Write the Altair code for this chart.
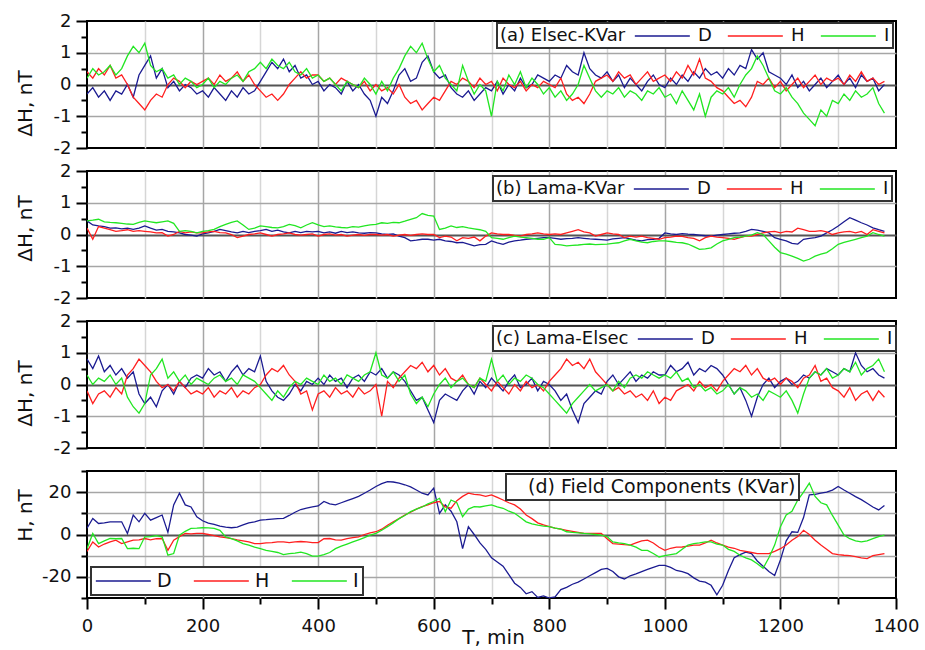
import altair as alt
import pandas as pd

# ---------------- data (minutes, 10-min steps, 0..1380) ----------------
T = list(range(0, 1390, 10))
COMPS = ["D", "H", "I"]
COLORS = ["#1b1b91", "#ff1f1f", "#22e622"]

TITLE_A = "(a) Elsec-KVar"
TITLE_B = "(b) Lama-KVar"
TITLE_C = "(c) Lama-Elsec"
TITLE_D = "(d) Field Components (KVar)"

X_GRID = list(range(0, 1500, 100))
Y_SMALL = [-2, -1.5, -1, -0.5, 0, 0.5, 1, 1.5, 2]
Y_BIG = [-30, -20, -10, 0, 10, 20, 30]

a_D = [-0.3, -0.1, -0.4, -0.2, -0.5, -0.2, -0.3, 0.0, -0.4, 0.3,
       0.6, 0.9, 0.2, 0.5, -0.1, 0.1, -0.2, 0.0, -0.1, -0.3,
       -0.2, -0.4, -0.1, -0.3, -0.5, -0.2, -0.4, -0.1, -0.3, -0.2,
       0.1, 0.4, 0.7, 0.5, 0.8, 0.4, 0.6, 0.2, 0.3, 0.0,
       0.1, -0.2, 0.0, -0.1, -0.3, 0.1, -0.2, 0.0, -0.3, -0.5,
       -1.0, -0.4, -0.6, -0.2, 0.3, 0.5, 0.1, 0.2, 0.7, 0.9,
       0.4, 0.2, 0.3, -0.1, -0.3, -0.4, -0.2, -0.5, -0.3, -0.1,
       -0.2, 0.1, -0.3, 0.0, -0.2, 0.2, -0.1, 0.0, 0.3, 0.2,
       0.1, 0.3, 0.2, 0.6, 0.4, 0.3, 1.0, 0.5, 0.3, 0.2,
       0.4, 0.1, 0.3, -0.1, 0.2, 0.0, -0.2, 0.1, 0.3, 0.0,
       -0.1, 0.2, 0.0, 0.3, 0.1, 0.4, 0.2, 0.5, 0.3, 0.4,
       0.2, 0.5, 0.3, 0.6, 0.5, 1.1, 0.8, 1.0, 0.4, 0.3,
       0.2, 0.0, 0.3, -0.1, 0.1, -0.2, 0.0, 0.2, -0.1, 0.1,
       0.3, 0.0, 0.2, -0.1, 0.3, 0.1, 0.2, -0.2, 0.0]
a_H = [0.4, 0.2, 0.5, 0.3, 0.6, 0.2, 0.3, 0.0, -0.4, -0.6,
       -0.8, -0.5, -0.3, -0.4, 0.0, 0.2, 0.1, -0.1, 0.1, 0.0,
       0.1, 0.2, 0.0, 0.3, 0.1, 0.2, 0.4, 0.1, 0.3, 0.0,
       -0.2, -0.4, -0.3, -0.5, -0.3, 0.0, 0.2, 0.4, 0.2, 0.3,
       0.3, 0.1, 0.2, 0.0, 0.2, 0.1, 0.0, -0.1, 0.1, -0.2,
       0.0, -0.2, -0.1, -0.3, 0.0, -0.4, -0.6, -0.5, -0.8, -0.6,
       -0.4, -0.5, -0.2, 0.1, 0.0, 0.2, 0.1, -0.1, 0.2, 0.0,
       0.1, -0.2, 0.2, 0.0, -0.1, 0.1, -0.2, 0.0, -0.1, 0.1,
       0.0, -0.1, 0.2, -0.3, -0.5, -0.4, -0.6, -0.3, 0.1, 0.2,
       0.3, 0.1, 0.4, 0.2, 0.3, 0.0, 0.2, 0.4, 0.1, 0.2,
       0.3, 0.1, 0.4, 0.2, 0.6, 0.3, 0.8, 0.2, 0.1, -0.1,
       -0.2, -0.4, -0.6, -0.5, -0.7, -0.4, 0.1, 0.0, 0.2, -0.1,
       0.1, -0.2, 0.0, 0.2, -0.1, 0.1, 0.3, 0.0, 0.2, 0.1,
       0.2, 0.0, 0.3, 0.1, 0.4, 0.1, 0.2, 0.0, 0.1]
a_I = [0.2, 0.5, 0.3, 0.4, 0.6, 0.3, 0.5, 0.9, 1.2, 1.0,
       1.3, 0.6, 0.4, 0.5, 0.2, 0.3, 0.0, 0.2, 0.1, -0.1,
       0.0, 0.2, -0.1, 0.1, 0.0, 0.2, 0.3, 0.1, 0.4, 0.5,
       0.7, 0.5, 0.8, 0.6, 0.5, 0.7, 0.4, 0.3, 0.5, 0.2,
       0.3, 0.1, 0.2, 0.0, -0.2, 0.1, 0.0, -0.1, 0.2, 0.0,
       -0.3, 0.1, -0.2, 0.2, 0.5, 0.9, 1.2, 1.0, 1.3, 0.8,
       0.4, 0.6, 0.2, 0.0, -0.2, 0.6, 0.1, -0.3, 0.0, -0.2,
       -1.0, 0.1, -0.2, 0.3, 0.0, 0.4, -0.1, 0.2, 0.0, -0.3,
       -0.1, -0.4, -0.2, -0.5, -0.3, 0.0, 0.6, 0.2, -0.2, -0.4,
       -0.2, -0.3, -0.1, -0.4, -0.2, -0.3, -0.5, -0.2, -0.3, -0.1,
       -0.4, -0.3, -0.6, -0.2, -0.5, -0.8, -0.3, -1.0, -0.4, -0.2,
       -0.3, -0.1, -0.4, 0.0, 0.3, 0.5, 0.9, 0.6, 0.2, -0.2,
       -0.3, -0.1, -0.4, -0.6, -0.9, -1.1, -1.3, -0.8, -1.0, -0.5,
       -0.6, -0.3, -0.5, -0.2, -0.4, -0.3, -0.1, -0.6, -0.9]

b_D = [0.43, 0.3, 0.27, 0.25, 0.2, 0.21, 0.18, 0.2, 0.16, 0.2,
       0.27, 0.2, 0.14, 0.16, 0.1, 0.08, 0.05, 0.0, -0.02, -0.05,
       0.02, 0.05, 0.1, 0.16, 0.12, 0.08, 0.05, 0.1, 0.06, 0.1,
       0.12, 0.16, 0.1, 0.14, 0.08, 0.05, 0.1, 0.06, 0.1, 0.08,
       0.1, 0.05, 0.08, 0.04, 0.1, 0.06, 0.08, 0.05, 0.04, 0.06,
       0.05, 0.02, 0.0, 0.02, -0.05, -0.1, -0.2, -0.18, -0.15, -0.15,
       -0.18, -0.15, -0.2, -0.22, -0.26, -0.25, -0.3, -0.36, -0.32, -0.31,
       -0.2, -0.26, -0.31, -0.24, -0.2, -0.18, -0.15, -0.14, -0.12, -0.1,
       -0.1, -0.12, -0.15, -0.13, -0.12, -0.1, -0.12, -0.14, -0.15, -0.16,
       -0.18, -0.14, -0.12, -0.1, -0.14, -0.18, -0.2, -0.16, -0.15, -0.12,
       0.05, 0.02, 0.0, 0.03, 0.01, 0.0, -0.02, -0.04, -0.05, -0.02,
       0.0, 0.02, 0.04, 0.05, 0.1, 0.16, 0.14, 0.1, 0.05, -0.1,
       -0.15, -0.2, -0.28, -0.3, -0.15, -0.12, -0.1, -0.05, 0.05, 0.15,
       0.27, 0.4, 0.53, 0.45, 0.37, 0.3, 0.21, 0.15, 0.1]
b_H = [0.2, -0.15, 0.25, 0.2, 0.15, 0.1, 0.12, 0.15, 0.1, 0.12,
       0.1, 0.08, 0.05, 0.06, -0.05, 0.0, 0.1, 0.05, 0.08, 0.05,
       0.05, 0.08, 0.1, 0.06, 0.05, 0.0, -0.1, -0.05, 0.0, 0.02,
       0.05, 0.0, -0.05, 0.0, 0.02, 0.05, 0.0, -0.02, 0.0, 0.02,
       -0.05, 0.0, 0.02, -0.02, 0.0, -0.05, -0.02, 0.0, -0.03, 0.0,
       0.0, -0.02, 0.0, -0.05, -0.02, 0.0, -0.03, 0.0, 0.02, 0.0,
       0.0, -0.1, -0.05, -0.08, -0.2, -0.1, -0.12, -0.08, -0.2, -0.05,
       0.05, 0.02, 0.0, 0.0, -0.03, -0.05, 0.0, 0.02, 0.05, 0.02,
       0.0, 0.02, 0.0, 0.05, 0.1, 0.15, 0.08, 0.05, -0.05, 0.0,
       0.05, 0.02, 0.0, -0.1, -0.05, -0.08, -0.05, -0.1, -0.12, -0.15,
       -0.1, -0.08, -0.05, -0.06, -0.1, -0.12, -0.2, -0.1, -0.05, -0.08,
       -0.1, -0.12, -0.15, -0.1, -0.05, -0.05, 0.0, 0.05, 0.08, 0.1,
       0.05, 0.1, 0.08, 0.2, 0.15, 0.1, 0.1, 0.12, 0.08, 0.0,
       0.05, 0.08, 0.1, 0.05, 0.1, 0.0, 0.15, 0.1, 0.05]
b_I = [0.43, 0.45, 0.48, 0.4, 0.38, 0.37, 0.35, 0.33, 0.32, 0.38,
       0.43, 0.4, 0.37, 0.4, 0.43, 0.35, 0.1, 0.12, 0.1, 0.05,
       0.1, 0.12, 0.16, 0.25, 0.32, 0.38, 0.43, 0.3, 0.16, 0.2,
       0.27, 0.25, 0.22, 0.21, 0.25, 0.32, 0.28, 0.21, 0.3, 0.37,
       0.3, 0.25, 0.27, 0.24, 0.22, 0.21, 0.25, 0.23, 0.27, 0.3,
       0.32, 0.37, 0.35, 0.38, 0.37, 0.42, 0.48, 0.53, 0.66, 0.6,
       0.58, 0.16, 0.2, 0.27, 0.22, 0.25, 0.21, 0.18, 0.15, 0.1,
       -0.1, -0.12, -0.15, -0.1, -0.05, -0.08, -0.1, -0.12, -0.15, -0.15,
       -0.1, -0.31, -0.33, -0.36, -0.34, -0.33, -0.31, -0.3, -0.32, -0.31,
       -0.3, -0.28, -0.26, -0.2, -0.15, -0.2, -0.24, -0.26, -0.22, -0.2,
       -0.2, -0.22, -0.25, -0.26, -0.3, -0.38, -0.47, -0.45, -0.42, -0.3,
       -0.2, -0.15, -0.1, -0.08, -0.05, -0.02, 0.06, 0.0, -0.2, -0.4,
       -0.57, -0.62, -0.68, -0.75, -0.84, -0.78, -0.68, -0.62, -0.57, -0.45,
       -0.31, -0.25, -0.2, -0.15, -0.1, -0.05, 0.06, 0.0, -0.05]

c_D = [0.8, 0.5, 0.9, 0.4, 0.6, 0.3, 0.5, 0.2, 0.4, -0.3,
       -0.6, -0.4, -0.7, -0.2, 0.0, -0.3, 0.1, -0.1, 0.2, 0.3,
       0.2, 0.5, 0.3, 0.4, 0.1, 0.4, 0.6, 0.3, 0.5, 0.4,
       0.9, 0.1, -0.2, -0.4, -0.5, -0.3, 0.0, -0.2, 0.1, 0.0,
       0.2, 0.0, 0.3, 0.1, 0.2, -0.1, 0.2, 0.3, 0.1, 0.4,
       0.3, 0.5, 0.2, 0.4, 0.3, 0.1, -0.2, -0.5, -0.4, -0.8,
       -1.2, -0.5, -0.3, -0.4, -0.5, -0.2, 0.0, -0.3, 0.1, -0.1,
       0.2, 0.0, -0.2, 0.1, 0.3, -0.1, 0.0, 0.2, -0.2, 0.1,
       0.0, -0.2, -0.5, -0.3, -0.8, -1.2, -0.6, -0.4, -0.2, -0.3,
       0.1, 0.3, 0.0, 0.2, 0.4, 0.1, 0.3, 0.2, 0.4, 0.3,
       0.3, 0.6, 0.4, 0.5, 0.7, 0.3, 0.5, 0.4, 0.6, 0.5,
       0.3, 0.0, -0.3, -0.1, -0.5, -1.0, -0.4, 0.0, 0.2, -0.1,
       0.1, 0.2, 0.0, 0.1, 0.3, 0.2, 0.4, 0.3, 0.5, 0.4,
       0.3, 0.5, 0.4, 1.0, 0.6, 0.4, 0.5, 0.3, 0.2]
c_H = [-0.2, -0.6, -0.3, -0.2, -0.4, -0.1, -0.3, 0.3, 0.5, 0.8,
       0.6, 0.4, 0.1, -0.1, 0.0, -0.2, 0.1, -0.1, -0.3, -0.2,
       -0.3, -0.1, -0.4, -0.2, -0.3, -0.1, -0.4, -0.2, -0.3, -0.1,
       0.0, 0.3, 0.5, 0.4, 0.6, 0.3, 0.1, -0.3, -0.2, -0.8,
       -0.3, -0.2, -0.4, -0.1, -0.3, -0.2, -0.4, -0.1, -0.3, -0.2,
       0.0, -1.0, 0.1, -0.1, 0.2, 0.4, 0.6, 0.5, 0.7, 0.4,
       0.6, 0.3, 0.5, 0.2, 0.1, 0.3, 0.0, -0.1, 0.2, 0.0,
       -0.2, 0.1, -0.1, -0.3, 0.0, -0.2, 0.1, -0.1, 0.0, -0.2,
       0.1, 0.3, 0.5, 0.8, 0.6, 0.7, 0.5, 0.8, 0.4, 0.2,
       0.0, -0.2, -0.1, -0.3, -0.2, -0.4, -0.3, -0.5, -0.2, -0.6,
       -0.4, -0.5, -0.2, -0.1, 0.0, -0.2, 0.1, -0.1, 0.0, -0.2,
       0.1, 0.3, 0.5, 0.4, 0.6, 0.3, 0.5, 0.2, 0.1, 0.2,
       0.0, 0.2, 0.1, -0.1, 0.2, 0.3, 0.6, 0.1, 0.2, -0.1,
       -0.2, -0.4, -0.1, -0.5, -0.3, -0.2, -0.5, -0.2, -0.4]
c_I = [0.3, 0.0, 0.2, 0.1, 0.3, 0.0, 0.2, -0.4, -0.7, -0.9,
       -0.6, 0.3, 0.5, 0.8, 0.2, 0.4, 0.1, 0.3, 0.0, 0.2,
       0.1, 0.0, 0.2, 0.3, 0.1, 0.2, 0.0, 0.3, 0.2, 0.1,
       -0.1, -0.3, -0.5, -0.2, -0.4, -0.1, 0.1, 0.0, 0.2, 0.1,
       0.0, 0.3, 0.1, 0.2, 0.0, 0.3, 0.2, 0.1, 0.3, 0.4,
       1.0, 0.3, 0.2, 0.4, 0.1, 0.3, -0.3, -0.6, -0.4, -0.7,
       -0.3, 0.0, 0.2, -0.1, 0.1, 0.2, 0.0, -0.1, 0.2, 0.1,
       0.8, 0.1, 0.3, 0.0, 0.2, 0.1, 0.3, 0.2, 0.0, -0.1,
       -0.3, -0.5, -0.7, -0.9, -0.6, -0.4, -0.2, 0.0, -0.2, -0.1,
       0.0, -0.2, 0.1, -0.1, 0.2, 0.3, 0.2, 0.4, 0.3, 0.2,
       0.3, 0.2, 0.4, 0.1, 0.2, -0.1, 0.0, -0.2, -0.1, -0.3,
       -0.2, 0.0, -0.3, -0.1, -0.2, -0.4, -0.3, -0.5, -0.2, -0.3,
       -0.4, -0.2, -0.5, -0.9, -0.3, 0.2, 0.4, 0.3, 0.5, 0.2,
       0.3, 0.5, 0.4, 0.7, 0.3, 0.5, 0.6, 0.8, 0.4]

d_D = [3, 7.6, 5.2, 5.5, 6, 6, 6, 0.5, 9.2, 6,
       10, 6.8, 8, 9.2, 1, 14, 19.5, 14, 13, 8.4,
       6.5, 5.4, 4.8, 4, 3.5, 3.2, 3.5, 4.5, 5.5, 6,
       6.8, 7, 7.3, 7.5, 7.6, 9, 10.5, 11.8, 12.5, 13,
       13.5, 15.6, 14.5, 14, 15, 16, 17, 18, 19.5, 21,
       22.7, 24, 25, 24.8, 24.3, 23.5, 22.5, 21, 19.5, 18.7,
       21.9, 10, 14, 11, 6, -6.7, 3.7, 0, -4, -7,
       -11, -13, -15, -19, -23, -25, -28, -27, -29.7, -29,
       -30, -29.5, -26, -25, -23.5, -22.5, -21, -19.5, -18, -16.5,
       -16, -17.5, -20, -21, -19.5, -18.6, -17.5, -16.5, -15.5, -14.6,
       -14.6, -15.5, -17, -17.5, -18.5, -20.5, -22, -22.5, -24, -28.5,
       -24, -17, -11, -9.5, -8.3, -9, -12.5, -15, -17.5, -19.4,
       -12, -3, 1.3, 1, 8, 18.7, 19, 19.5, 20, 21,
       22.7, 21, 19.5, 17.9, 16.5, 14.8, 13, 11.6, 13.7]
d_H = [-8, -3.5, -5.9, -4.5, -3.5, -2.7, -4.3, -3.5, -2.7, -2.5,
       -1.9, -2.5, -2, -1.9, -7.5, -2.7, -1, 0.5, 0.3, 0.5,
       0.5, 0, -0.5, -1.1, -1.5, -1.9, -2.5, -3, -3.5, -4.3,
       -4.3, -4, -3.8, -3.5, -3.5, -3.8, -3.5, -3.3, -3.5, -3.8,
       -3.8, -2, -1.9, -2.5, -2.7, -2, -1.5, -1.1, 0, 0.8,
       1.3, 2.5, 4.4, 6, 7.5, 9.2, 10.5, 12, 13.2, 14,
       15, 15.6, 13, 12.4, 16, 18, 19.5, 19, 18.7, 18,
       18.7, 17.5, 16.3, 15, 14, 12, 9.2, 7.5, 5.5, 4.5,
       3.7, 3, 2.5, 2, 1.5, 1, 0.5, 0.5, 0.5, 0.5,
       -2, -4.3, -4.5, -4.8, -5, -4, -3, -2.7, -4, -6,
       -7.5, -6.5, -6, -5.9, -5.5, -5, -5, -4, -2.7, -4,
       -5, -6, -6.5, -7.5, -8, -8.5, -9, -9, -9, -8,
       -6.7, -5, -2.7, -1, 2, 0, -2.7, -5, -7, -9,
       -9.5, -9.8, -10, -10.5, -11, -11.4, -10, -9.5, -9]
d_I = [-6.7, 0.5, -4.3, -3, -1.9, -2, -1.9, -6.7, -6.5, -6.7,
       -1.1, -1, -0.5, -1.1, -9.8, -9, -0.3, 1.5, 2.9, 3,
       3.2, 3.1, 2.9, 2, -1.1, -2, -3, -4.3, -5, -6,
       -6.7, -7.5, -8, -8.5, -9.5, -9, -8.8, -8.3, -9, -10.2,
       -10.2, -9.5, -8.5, -6.7, -5.5, -4.5, -3.5, -2.5, -1.5, -0.3,
       0.5, 2, 3.7, 5.5, 7.5, 9, 10.8, 12, 13, 14.5,
       15.6, 17.1, 10.8, 16.3, 15, 8.4, 12, 13.2, 13, 13.5,
       14, 13, 12.4, 11, 10, 8, 6, 5, 4.4, 4,
       3.7, 3, 2.5, 1.3, 1, 0.8, 0.5, 0.3, 0, -0.3,
       -1, -3.5, -4, -4.3, -5, -6, -7.5, -7.5, -9, -10.6,
       -10, -9.5, -9, -7, -5, -4.3, -4, -3.5, -3.5, -4.5,
       -5, -7, -8, -9.8, -11, -12, -13.8, -16, -11, -5,
       3.7, 9.2, 11, 16.3, 20, 24.3, 18, 15, 14, 9,
       4.4, -0.3, -2, -3, -3.5, -3, -2, -1, -0.3]

FONT = "DejaVu Sans"
PW, PH = 809, 127
# legend line symbol: a custom path 6 units long, scaled by sqrt(size)/2
LINE_SYMBOL = "M-1,0H5"
SYM_SIZE = 336


def long_df(d, h, i):
    rows = []
    for comp, vals in zip(COMPS, [d, h, i]):
        assert len(vals) == len(T), (comp, len(vals))
        for t, v in zip(T, vals):
            rows.append({"t": t, "comp": comp, "v": v})
    return pd.DataFrame(rows)


def x_axis(bottom):
    common = dict(
        values=X_GRID, grid=True, domain=False,
        gridColor={"condition": {"test": "datum.value % 200 === 0", "value": "#a6a6a6"}, "value": "#d6d6d6"},
        gridOpacity={"condition": {"test": "datum.value === 0 || datum.value === 1400", "value": 0}, "value": 1},
        gridWidth=1.5,
    )
    if not bottom:
        return alt.Axis(labels=False, ticks=False, title=None, **common)
    return alt.Axis(
        labelExpr="datum.value % 200 === 0 ? '' + datum.value : ''",
        tickSize={"condition": {"test": "datum.value % 200 === 0", "value": 11}, "value": 6},
        labelFlush=False, labelOverlap=False, labelPadding=8,
        title="T, min", titleX=406, titleY=45, titleBaseline="alphabetic", titleAlign="center",
        **common,
    )


def y_axis(values, major, edge, title, title_y):
    return alt.Axis(
        values=values,
        labelExpr=f"datum.value % {major} === 0 ? '' + datum.value : ''",
        tickSize={"condition": {"test": f"datum.value % {major} === 0", "value": 11}, "value": 6},
        grid=True, domain=False,
        gridColor={"condition": {"test": "datum.value === 0", "value": "#555555"}, "value": "#a6a6a6"},
        gridWidth={"condition": {"test": "datum.value === 0", "value": 2}, "value": 1.5},
        gridOpacity={"condition": {"test": f"abs(datum.value) === {edge} || (datum.value % 10 !== 0 && datum.value % 1 !== 0)", "value": 0}, "value": 1},
        labelFlush=False, labelOverlap=False, labelPadding=5,
        title=title, titleAngle=270, titleX=-56, titleY=title_y,
        titleBaseline="alphabetic", titleAlign="center",
    )


def small_legend(title, lx, ly):
    return alt.Legend(
        title=title, orient="none", legendX=lx, legendY=ly, direction="horizontal",
        titleOrient="left", titleFontSize=18, titleFontWeight="normal", titlePadding=8,
        titleAnchor="middle", titleBaseline="middle", titleLimit=400,
        symbolType=LINE_SYMBOL, symbolSize=SYM_SIZE, symbolStrokeWidth=1.5,
        labelFontSize=18, labelOffset=44, columnPadding=12,
        fillColor="white", strokeColor="#333333", padding=3,
    )


def panel(df, legend, yvals, ydomain, major, edge, ytitle, title_y, bottom=False):
    return alt.Chart(df).mark_line(strokeWidth=1.3, clip=True).encode(
        x=alt.X("t:Q", scale=alt.Scale(domain=[0, 1400], nice=False, zero=False), axis=x_axis(bottom)),
        y=alt.Y("v:Q", scale=alt.Scale(domain=ydomain, nice=False, zero=False),
                axis=y_axis(yvals, major, edge, ytitle, title_y)),
        color=alt.Color("comp:N", scale=alt.Scale(domain=COMPS, range=COLORS), legend=legend),
    ).properties(width=PW, height=PH)


pa = panel(long_df(a_D, a_H, a_I), small_legend(TITLE_A, 410, 2), Y_SMALL, [-2, 2], 1, 2, "ΔH, nT", 82)
pb = panel(long_df(b_D, b_H, b_I), small_legend(TITLE_B, 406, 5), Y_SMALL, [-2, 2], 1, 2, "ΔH, nT", 57)
pc = panel(long_df(c_D, c_H, c_I), small_legend(TITLE_C, 406, 5), Y_SMALL, [-2, 2], 1, 2, "ΔH, nT", 72)

d_legend = alt.Legend(
    title=None, orient="none", legendX=4, legendY=96, direction="horizontal",
    symbolType=LINE_SYMBOL, symbolSize=SYM_SIZE, symbolStrokeWidth=1.5,
    labelFontSize=19, labelOffset=42, columnPadding=18,
    fillColor="white", strokeColor="#333333", padding=4,
)
pd_lines = panel(long_df(d_D, d_H, d_I), d_legend, Y_BIG, [-30, 30], 20, 30, "H, nT", 44, bottom=True)

title_df = pd.DataFrame({"lbl": [TITLE_D]})
pd_title = alt.Chart(title_df).mark_point(size=0, opacity=0).encode(
    shape=alt.Shape("lbl:N", legend=alt.Legend(
        title=None, orient="none", legendX=419, legendY=3,
        symbolSize=0, symbolOpacity=0, labelOffset=0, labelFontSize=19, labelLimit=500,
        fillColor="white", strokeColor="#333333", padding=3,
    ))
)
pdd = alt.layer(pd_lines, pd_title).properties(width=PW, height=PH)

chart = alt.vconcat(pa, pb, pc, pdd, spacing=23, bounds="flush").resolve_scale(
    color="independent", shape="independent"
).resolve_legend(color="independent", shape="independent").properties(
    padding={"left": 14, "top": 11, "right": 5, "bottom": 0}
).configure(font=FONT).configure_view(
    stroke="black", strokeWidth=2
).configure_axis(
    labelFont=FONT, titleFont=FONT, labelFontSize=18, titleFontSize=20,
    titleFontWeight="normal", labelColor="#111111", titleColor="#111111",
    tickColor="black", tickWidth=2,
).configure_legend(
    labelFont=FONT, titleFont=FONT, labelColor="#111111", titleColor="#111111",
    strokeWidth=2,
)

chart.save("out.html", embed_options={"renderer": "svg", "actions": False})
